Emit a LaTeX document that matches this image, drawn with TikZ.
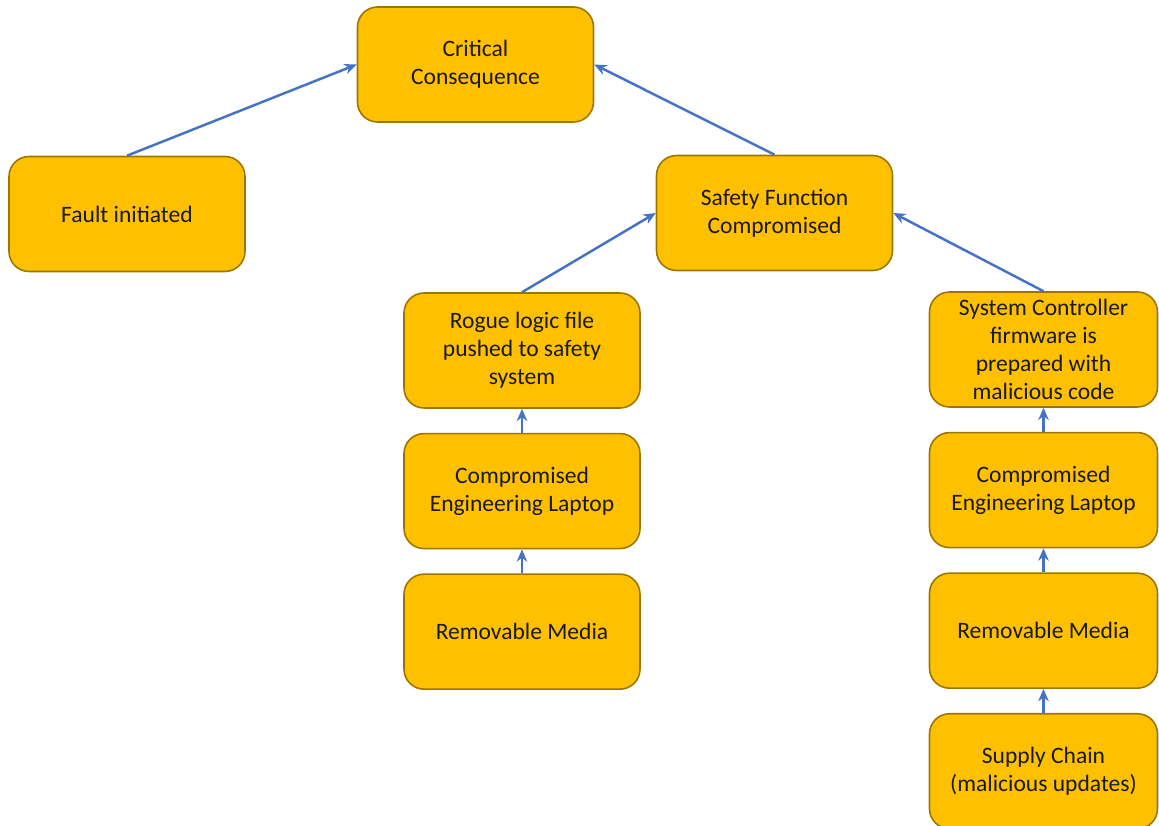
\documentclass[tikz,border=0pt]{standalone}
\usepackage{fontspec}
\setmainfont{Carlito}
\usetikzlibrary{positioning,arrows.meta}

\definecolor{boxfill}{HTML}{FFC000}
\definecolor{boxline}{HTML}{9C7600}
\definecolor{arrowblue}{HTML}{4472C4}

\tikzset{
  box/.style={draw=boxline, fill=boxfill, line width=0.9pt, rounded corners=0.4cm,
    minimum width=4.72cm, minimum height=2.3cm, align=center,
    font=\fontsize{13.4}{16}\selectfont, inner sep=2pt, text=black!90},
  rbox/.style={box, minimum width=4.56cm},
  link/.style={draw=arrowblue, line width=1.4pt, -{Stealth[length=7pt,width=6pt]}}
}

\begin{document}
\begin{tikzpicture}[node distance=0.48cm]
    \useasboundingbox (0,0) rectangle (23.18,-16.52);

    \node (crit)   [box] at (9.51,-1.29) {Critical\\Consequence};
    \node (fault)  [box] at (2.54,-4.28) {Fault initiated};
    \node (safety) [box] at (15.49,-4.26) {Safety Function\\Compromised};

    \node (rogue)  [box] at (10.44,-7.01) {Rogue logic file\\pushed to safety\\system};
    \node (lapL)   [box, below=of rogue] {Compromised\\Engineering Laptop};
    \node (mediaL) [box, below=of lapL] {Removable Media};

    \node (sysc)   [rbox] at (20.87,-6.99) {System Controller\\firmware is\\prepared with\\malicious code};
    \node (lapR)   [rbox, below=of sysc] {Compromised\\Engineering Laptop};
    \node (mediaR) [rbox, below=of lapR] {Removable Media};
    \node (supply) [rbox, below=of mediaR] {Supply Chain\\(malicious updates)};

    \draw[link] (fault.north) to (crit.west);
    \draw[link] (safety.north) to (crit.east);
    \draw[link] (rogue.north) to (safety.west);
    \draw[link] (sysc.north) to (safety.east);
    \draw[link] (lapL) to (rogue);
    \draw[link] (mediaL) to (lapL);
    \draw[link] (lapR) to (sysc);
    \draw[link] (mediaR) to (lapR);
    \draw[link] (supply) to (mediaR);
  \end{tikzpicture}
\end{document}
